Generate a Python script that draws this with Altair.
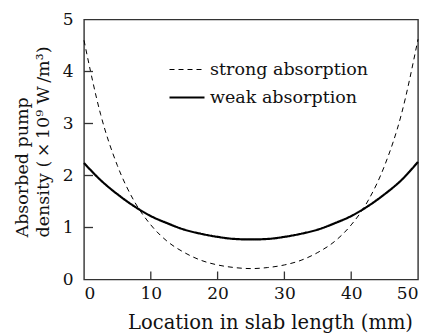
import altair as alt
import pandas as pd

x_mm = [0, 2.5, 5, 7.5, 10, 12.5, 15, 17.5, 20, 22.5, 25,
        27.5, 30, 32.5, 35, 37.5, 40, 42.5, 45, 47.5, 50]
strong = [4.60, 3.17, 2.19, 1.51, 1.05, 0.73, 0.52, 0.37, 0.28, 0.23, 0.21,
          0.23, 0.28, 0.37, 0.52, 0.73, 1.05, 1.51, 2.19, 3.17, 4.62]
weak = [2.24, 1.91, 1.64, 1.41, 1.22, 1.08, 0.96, 0.88, 0.82, 0.78, 0.77,
        0.78, 0.82, 0.88, 0.96, 1.08, 1.22, 1.41, 1.64, 1.91, 2.26]
series = ["strong absorption", "weak absorption"]
x_ticks = [10, 20, 30, 40]
y_ticks = [1, 2, 3, 4]

rows = []
for name, vals in zip(series, [strong, weak]):
    for xv, yv in zip(x_mm, vals):
        rows.append({"x": xv, "y": yv, "series": name})
df = pd.DataFrame(rows)

FONT = "DejaVu Serif"
W, H = 334, 260

xs = alt.Scale(domain=[0, 50], nice=False)
ys = alt.Scale(domain=[0, 5], nice=False)

lines = alt.Chart(df).mark_line(interpolate="monotone", color="black").encode(
    x=alt.X("x:Q", scale=xs, title="Location in slab length (mm)",
            axis=alt.Axis(values=[0, 10, 20, 30, 40, 50], ticks=False, domain=False,
                          grid=False, labelPadding=6, titlePadding=12,
                          titleX=186, titleFontSize=19.5)),
    y=alt.Y("y:Q", scale=ys,
            title=["Absorbed pump", "density (\u2009×\u200910⁹ W\u2009/m³)"],
            axis=alt.Axis(values=[0, 1, 2, 3, 4, 5], ticks=False, domain=False,
                          grid=False, labelPadding=11, titlePadding=10,
                          titleLineHeight=21, titleFontSize=17.5,
                          titleAlign="left", titleY=217.5)),
    strokeDash=alt.StrokeDash("series:N",
                              scale=alt.Scale(domain=series, range=[[5, 4], [1, 0]]),
                              legend=alt.Legend(title=None, orient="none",
                                                legendX=84, legendY=32,
                                                symbolType="stroke", symbolSize=1225,
                                                symbolStrokeColor="black",
                                                labelFont=FONT, labelFontSize=17.5,
                                                labelColor="#111", labelOffset=4,
                                                rowPadding=-3)),
    strokeWidth=alt.StrokeWidth("series:N",
                                scale=alt.Scale(domain=series, range=[1.0, 2.2]),
                                legend=None),
)

xt = pd.DataFrame({"t": x_ticks})
yt = pd.DataFrame({"t": y_ticks})
xtick_marks = alt.Chart(xt).mark_rule(color="#333", strokeWidth=1.3).encode(
    x=alt.X("t:Q", scale=xs), y=alt.value(H), y2=alt.value(H - 8))
ytick_marks = alt.Chart(yt).mark_rule(color="#333", strokeWidth=1.3).encode(
    y=alt.Y("t:Q", scale=ys), x=alt.value(0), x2=alt.value(9))

chart = alt.layer(lines, xtick_marks, ytick_marks).properties(
    width=W, height=H,
    background="white",
    autosize=alt.AutoSizeParams(type="none"),
    padding={"left": 76, "top": 11.5, "right": 7, "bottom": 54},
).configure_view(stroke="#333", strokeWidth=1.4).configure_axis(
    labelFont=FONT, labelFontSize=17, labelColor="#111",
    titleFont=FONT, titleFontSize=18, titleFontWeight="normal", titleColor="#111",
)

chart.save("out.html", embed_options={"renderer": "svg", "actions": False})
